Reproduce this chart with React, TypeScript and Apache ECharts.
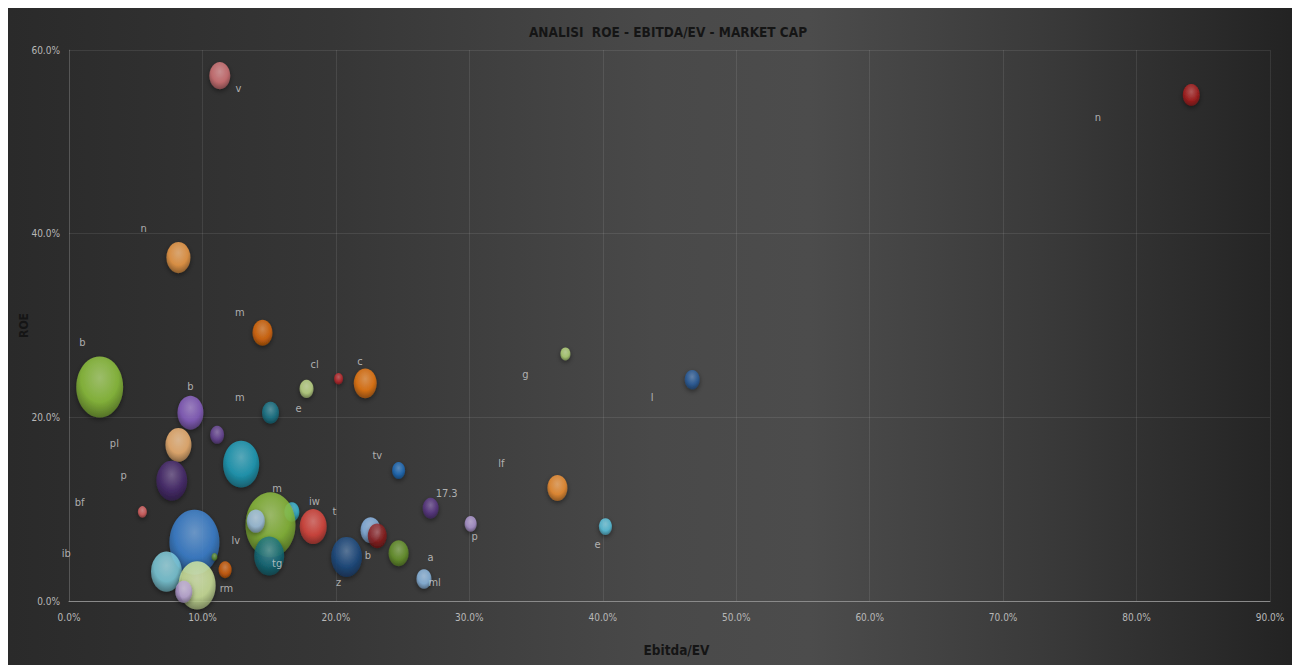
import React, { useEffect, useRef } from "react";
import * as echarts from "echarts";

// Bubble data (Ebitda/EV %, ROE %, market cap)
const bubbleX = [11.3, 8.2, 14.5, 2.3, 9.1, 17.8, 20.2, 22.2, 15.1, 11.1, 8.2, 12.9, 7.7, 5.5, 24.7, 9.4, 10.9, 7.3, 9.6, 8.6, 11.7, 16.7, 15.1, 14.0, 15.0, 18.3, 20.8, 22.6, 23.1, 24.7, 26.6, 27.1, 37.2, 36.6, 30.1, 40.2, 46.7, 84.1];
const bubbleY = [57.2, 37.4, 29.2, 23.3, 20.5, 23.1, 24.2, 23.7, 20.5, 18.1, 17.0, 14.9, 13.1, 9.7, 14.2, 6.4, 4.8, 3.2, 1.7, 1.0, 3.4, 9.7, 8.3, 8.7, 4.9, 8.1, 4.8, 7.7, 7.1, 5.2, 2.4, 10.1, 26.9, 12.3, 8.4, 8.1, 24.1, 55.1];
const marketCap = [17.6, 23, 16, 88, 27, 7.8, 3.2, 21, 11.6, 7.8, 27, 52, 38, 3.2, 6.8, 100, 1.4, 38, 55, 11.6, 6.8, 9, 100, 13, 36, 29, 38, 16, 14.4, 16, 9, 10.2, 4, 16, 5.8, 6.8, 9, 11.6];
const bubbleColors = ["#d9777a", "#f7a14a", "#e36c0a", "#92c83e", "#8c62c7", "#c4de8a", "#c0282c", "#f07b12", "#1a7a8e", "#6e4a9e", "#f8b977", "#1fa3c0", "#4b2c72", "#e06464", "#1f6fbf", "#3d85d6", "#5e8a24", "#7fd0e0", "#d4eba0", "#b9a2d8", "#d8620a", "#39c0dc", "#8cbf3a", "#9dbbe6", "#16707f", "#e2483f", "#1e4e86", "#8dbbed", "#8e1c1c", "#6b9a2d", "#8fbde8", "#5c3888", "#b7d97a", "#f79433", "#b29ad6", "#5cc8e4", "#2a5fa0", "#b11f1f"];

// Data labels (text and their positions in data units)
const labelText = ["v", "n", "m", "b", "b", "cl", "c", "m", "e", "pl", "p", "bf", "tv", "ib", "rm", "lv", "m", "tg", "iw", "t", "z", "b", "a", "ml", "17.3", "g", "lf", "p", "e", "l", "n"];
const labelX = [12.7, 5.6, 12.8, 1.0, 9.1, 18.4, 21.8, 12.8, 17.2, 3.4, 4.1, 0.8, 23.1, -0.2, 11.8, 12.5, 15.6, 15.6, 18.4, 19.9, 20.2, 22.4, 27.1, 27.4, 28.3, 34.2, 32.4, 30.4, 39.6, 43.7, 77.1];
const labelY = [55.8, 40.6, 31.4, 28.1, 23.4, 25.7, 26.1, 22.2, 21.0, 17.2, 13.7, 10.7, 15.8, 5.2, 1.4, 6.6, 12.3, 4.1, 10.8, 9.8, 2.0, 5.0, 4.7, 2.0, 11.7, 24.7, 15.0, 7.0, 6.1, 22.2, 52.7];

const xTicks = { min: 0, max: 90, interval: 10 };
const yTicks = { min: 0, max: 60, interval: 20 };

const FONT = "'Liberation Sans Narrow', 'DejaVu Sans Condensed', Arial, sans-serif";

function shade(hex: string, amt: number): string {
  const n = parseInt(hex.slice(1), 16);
  let r = (n >> 16) & 255, g = (n >> 8) & 255, b = n & 255;
  if (amt >= 0) {
    r = r + (255 - r) * amt; g = g + (255 - g) * amt; b = b + (255 - b) * amt;
  } else {
    r = r * (1 + amt); g = g * (1 + amt); b = b * (1 + amt);
  }
  const h = (v: number) => Math.round(v).toString(16).padStart(2, "0");
  return "#" + h(r) + h(g) + h(b);
}

export default function App() {
  const ref = useRef<HTMLDivElement>(null);
  useEffect(() => {
    document.documentElement.style.overflow = "hidden";
    document.body.style.overflow = "hidden";
    const chart = echarts.init(ref.current!, undefined, { renderer: "svg" });

    const bubbleData = bubbleX.map((x, i) => {
      const c = bubbleColors[i];
      return {
        value: [x, bubbleY[i], marketCap[i]],
        itemStyle: {
          color: {
            type: "radial", x: 0.5, y: 0.35, r: 0.72,
            colorStops: [
              { offset: 0, color: shade(c, 0.3) },
              { offset: 0.55, color: c },
              { offset: 1, color: shade(c, -0.45) },
            ],
          },
          shadowBlur: 5,
          shadowColor: "rgba(0,0,0,0.55)",
          shadowOffsetY: 2,
        },
      };
    });

    const labelData = labelText.map((t, i) => ({ value: [labelX[i], labelY[i]], name: t }));

    chart.setOption({
      animation: false,
      backgroundColor: {
        type: "linear", x: 0, y: 0, x2: 1, y2: 0,
        colorStops: [
          { offset: 0, color: "#2a2a2a" },
          { offset: 0.25, color: "#363636" },
          { offset: 0.5, color: "#494949" },
          { offset: 0.62, color: "#4c4c4c" },
          { offset: 0.8, color: "#3a3a3a" },
          { offset: 1, color: "#222222" },
        ],
      },
      title: {
        text: "ANALISI  ROE - EBITDA/EV - MARKET CAP",
        left: 655,
        textAlign: "center",
        top: 12,
        textStyle: { color: "#151515", fontSize: 13.5, fontWeight: "bold", fontFamily: FONT },
      },
      grid: { left: 61, top: 42, right: 30, bottom: 64, containLabel: false, outerBoundsMode: "none" },
      xAxis: {
        type: "value",
        ...xTicks,
        name: "Ebitda/EV",
        nameLocation: "middle",
        nameGap: 42,
        nameMoveOverlap: false,
        nameTextStyle: { color: "#151515", fontSize: 13.5, fontWeight: "bold", fontFamily: FONT, padding: [0, 0, 0, 14] },
        axisLine: { show: true, lineStyle: { color: "#8a8a8a", width: 1 } },
        axisTick: { show: false },
        axisLabel: { color: "#b8b8b8", fontSize: 10, fontFamily: FONT, margin: 11, formatter: (v: number) => v.toFixed(1) + "%" },
        splitLine: { show: true, lineStyle: { color: "rgba(255,255,255,0.09)", width: 1 } },
      },
      yAxis: {
        type: "value",
        ...yTicks,
        name: "ROE",
        nameLocation: "middle",
        nameGap: 39,
        nameMoveOverlap: false,
        nameTextStyle: { color: "#151515", fontSize: 12, fontWeight: "bold", fontFamily: FONT },
        axisLine: { show: true, lineStyle: { color: "rgba(255,255,255,0.12)", width: 1 } },
        axisTick: { show: false },
        axisLabel: { color: "#b8b8b8", fontSize: 10, fontFamily: FONT, margin: 9, formatter: (v: number) => v.toFixed(1) + "%" },
        splitLine: { show: true, lineStyle: { color: "rgba(255,255,255,0.09)", width: 1 } },
      },
      series: [
        {
          type: "scatter",
          clip: false,
          data: bubbleData,
          symbolSize: (v: number[]) => {
            const d = 5 * Math.sqrt(v[2]);
            return [d, d * 1.3];
          },
          z: 2,
        },
        {
          type: "scatter",
          clip: false,
          silent: true,
          symbolSize: 0,
          data: labelData,
          itemStyle: { color: "transparent" },
          label: {
            show: true,
            position: "inside",
            formatter: (p: any) => p.name,
            color: "#cfcfcf",
            fontSize: 11,
            fontFamily: FONT,
          },
          z: 3,
        },
      ],
    });
    return () => chart.dispose();
  }, []);
  return <div ref={ref} style={{ width: 1292, height: 657 }} />;
}
